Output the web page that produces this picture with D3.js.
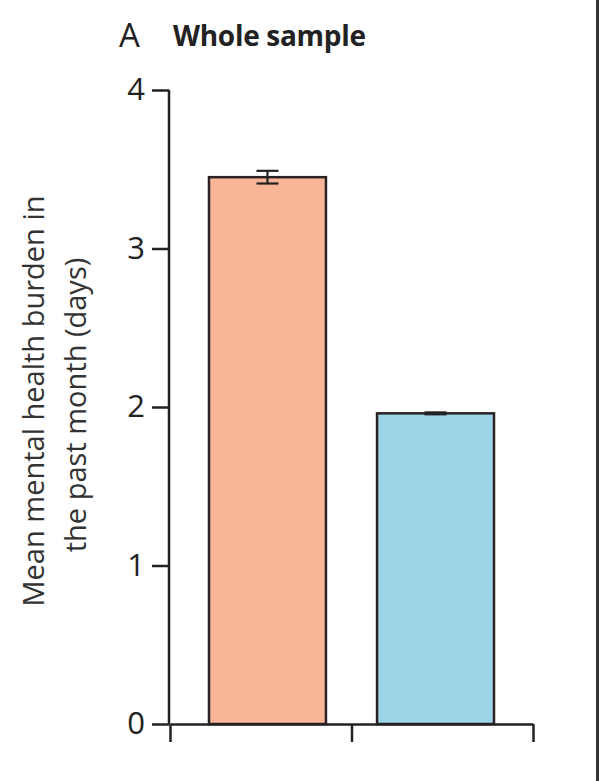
<!DOCTYPE html>
<html><head><meta charset="utf-8">
<script src="https://cdn.jsdelivr.net/npm/d3@7"></script>
<style>body{margin:0;background:#fff}svg{display:block}</style>
</head><body>
<script>
const categories = ["Group 1", "Group 2"];
const values = [3.45, 1.96];
const errors = [0.04, 0.006];
const colors = ["#F8B598", "#9DD4E8"];
const yTicks = [0, 1, 2, 3, 4];

const W = 600, H = 781;
const svg = d3.select("body").append("svg").attr("width", W).attr("height", H);
const font = "'Open Sans', 'Liberation Sans', sans-serif";

const y = d3.scaleLinear().domain([0, 4]).range([724, 90]);
const xb = d3.scaleLinear().domain([0, categories.length]).range([170, 533]);
const x = d3.scaleBand().domain(categories).range([170, 533]).paddingInner(0.304).paddingOuter(0.232);

// bars
svg.selectAll("rect.bar").data(categories).join("rect")
  .attr("x", d => x(d)).attr("y", (d, i) => y(values[i]))
  .attr("width", x.bandwidth()).attr("height", (d, i) => y(0) - y(values[i]))
  .attr("fill", (d, i) => colors[i]).attr("stroke", "#2a2222").attr("stroke-width", 2.5);

// error bars
const eb = svg.selectAll("g.err").data(categories).join("g");
eb.append("line").attr("x1", d => x(d) + x.bandwidth() / 2).attr("x2", d => x(d) + x.bandwidth() / 2)
  .attr("y1", (d, i) => y(values[i] + errors[i])).attr("y2", (d, i) => y(values[i] - errors[i]))
  .attr("stroke", "#222").attr("stroke-width", 2.2);
[1, -1].forEach(s => {
  eb.append("line").attr("x1", d => x(d) + x.bandwidth() / 2 - 11).attr("x2", d => x(d) + x.bandwidth() / 2 + 11)
    .attr("y1", (d, i) => y(values[i] + s * errors[i])).attr("y2", (d, i) => y(values[i] + s * errors[i]))
    .attr("stroke", "#222").attr("stroke-width", 2.2);
});

// y axis
const ya = svg.append("g").attr("transform", "translate(169,0)")
  .call(d3.axisLeft(y).tickValues(yTicks).tickFormat(d3.format("d")).tickSize(17).tickPadding(7));
ya.select(".domain").attr("stroke", "#222").attr("stroke-width", 2.5).attr("d", "M0," + y(4) + "V" + y(0));
ya.selectAll(".tick line").attr("stroke", "#222").attr("stroke-width", 2.5);
ya.selectAll(".tick text").attr("font-family", font).attr("font-size", 31).attr("fill", "#222");

// x axis
const xa = svg.append("g").attr("transform", "translate(0," + y(0) + ")")
  .call(d3.axisBottom(xb).tickValues(d3.range(categories.length + 1)).tickFormat("").tickSize(18).tickSizeOuter(0));
xa.select(".domain").attr("stroke", "#222").attr("stroke-width", 2.5);
xa.selectAll(".tick line").attr("stroke", "#222").attr("stroke-width", 2.5);

// y title
const yTitle = ["Mean mental health burden in", "the past month (days)"];
const yTitlePos = [[44, 401], [86, 405]];
svg.selectAll("text.ytitle").data(yTitle).join("text").attr("class", "ytitle")
  .attr("transform", (d, i) => "translate(" + yTitlePos[i][0] + "," + yTitlePos[i][1] + ") rotate(-90)")
  .attr("text-anchor", "middle").attr("font-family", font).attr("font-size", 29).attr("fill", "#333")
  .text(d => d);

// title
svg.append("text").attr("x", 119).attr("y", 47).attr("font-family", font).attr("font-size", 33).attr("fill", "#222").text("A");
svg.append("text").attr("x", 173).attr("y", 46).attr("font-family", font).attr("font-weight", "bold")
  .attr("font-size", 28).attr("letter-spacing", -0.3).attr("fill", "#222").text("Whole sample");

// right border
svg.append("line").attr("x1", 597.5).attr("x2", 597.5).attr("y1", 0).attr("y2", H).attr("stroke", "#333").attr("stroke-width", 3);
</script>
</body></html>
